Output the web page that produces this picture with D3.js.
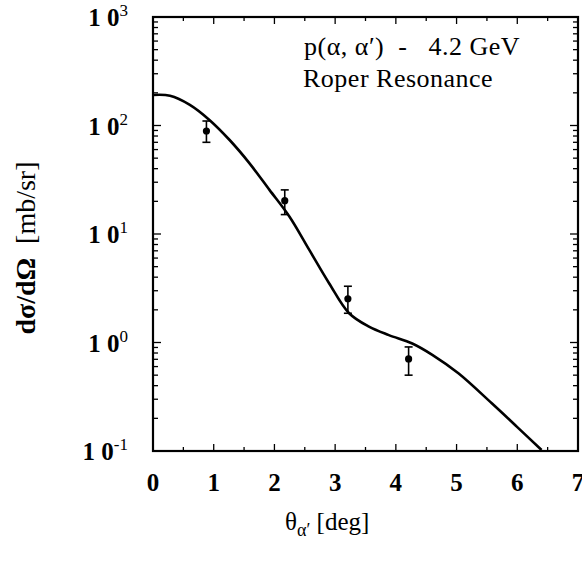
<!DOCTYPE html>
<html>
<head>
<meta charset="utf-8">
<script src="https://cdn.jsdelivr.net/npm/d3@7"></script>
<style>
  body { margin: 0; background: #fff; }
  svg { display: block; }
  text { font-family: "Liberation Serif", "DejaVu Serif", serif; fill: #000; }
</style>
</head>
<body>
<svg></svg>
<script>
const width = 582, height = 564;
const margin = { left: 153, right: 2, top: 17, bottom: 113 };

// data
const data_x = [0.88, 2.17, 3.21, 4.21];
const data_y = [89, 20.3, 2.53, 0.705];
const err_hi = [110, 25.5, 3.3, 0.91];
const err_lo = [70, 15.1, 1.86, 0.5];

const curve_x = [0, 0.28, 0.607, 0.934, 1.262, 1.59, 1.918, 2.246, 2.574, 2.9, 3.23, 3.557, 3.885, 4.27, 4.6, 5.03, 5.58, 6.0, 6.4];
const curve_y = [191, 188, 155, 112, 73.5, 44.8, 25.5, 14.5, 7.13, 3.52, 1.86, 1.40, 1.17, 0.98, 0.77, 0.52, 0.275, 0.166, 0.102];

const x_ticks = [0, 1, 2, 3, 4, 5, 6, 7];
const y_exps = [-1, 0, 1, 2, 3];

const svg = d3.select("svg").attr("width", width).attr("height", height);

const x_scale = d3.scaleLinear().domain([0, 7]).range([margin.left, width - margin.right - 2]);
const y_scale = d3.scaleLog().domain([0.1, 1000]).range([height - margin.bottom, margin.top]);

const x0 = x_scale(0), x1 = x_scale(7), y0 = y_scale(0.1), y1 = y_scale(1000);

// minor / major ticks
const minor_x = d3.range(0.5, 7, 1);
const minor_y = [];
for (let e = -1; e < 3; e++) for (let m = 2; m <= 9; m++) minor_y.push(m * Math.pow(10, e));

const ticks = svg.append("g").attr("stroke", "#000").attr("stroke-width", 1.3);
x_ticks.forEach(v => {
  ticks.append("line").attr("x1", x_scale(v)).attr("x2", x_scale(v)).attr("y1", y0).attr("y2", y0 - 7);
  ticks.append("line").attr("x1", x_scale(v)).attr("x2", x_scale(v)).attr("y1", y1).attr("y2", y1 + 7);
});
minor_x.forEach(v => {
  ticks.append("line").attr("x1", x_scale(v)).attr("x2", x_scale(v)).attr("y1", y0).attr("y2", y0 - 4);
  ticks.append("line").attr("x1", x_scale(v)).attr("x2", x_scale(v)).attr("y1", y1).attr("y2", y1 + 4);
});
y_exps.forEach(e => {
  const y = y_scale(Math.pow(10, e));
  ticks.append("line").attr("x1", x0).attr("x2", x0 + 8).attr("y1", y).attr("y2", y);
  ticks.append("line").attr("x1", x1).attr("x2", x1 - 8).attr("y1", y).attr("y2", y);
});
minor_y.forEach(v => {
  const y = y_scale(v);
  ticks.append("line").attr("x1", x0).attr("x2", x0 + 5).attr("y1", y).attr("y2", y);
  ticks.append("line").attr("x1", x1).attr("x2", x1 - 5).attr("y1", y).attr("y2", y);
});

// frame
svg.append("rect")
  .attr("x", x0).attr("y", y1)
  .attr("width", x1 - x0).attr("height", y0 - y1)
  .attr("fill", "none").attr("stroke", "#000").attr("stroke-width", 2.2);

// x tick labels
svg.append("g").selectAll("text").data(x_ticks).join("text")
  .attr("x", d => x_scale(d))
  .attr("y", y0 + 40)
  .attr("text-anchor", "middle")
  .style("font-size", "25px")
  .style("font-weight", "bold")
  .text(d => d);

// y tick labels (10^n)
const ylab = svg.append("g").selectAll("text").data(y_exps).join("text")
  .attr("x", x0 - 25)
  .attr("y", d => y_scale(Math.pow(10, d)) + 9)
  .attr("text-anchor", "end")
  .style("font-size", "25px")
  .style("font-weight", "bold");
ylab.append("tspan").text("1 0");
ylab.append("tspan").attr("dy", -10).style("font-size", "17px").style("font-weight", "normal").text(d => d);

// curve
const line_generator = d3.line()
  .x(d => x_scale(d[0]))
  .y(d => y_scale(d[1]))
  .curve(d3.curveCatmullRom.alpha(0.5));

svg.append("path")
  .attr("fill", "none")
  .attr("stroke", "#000")
  .attr("stroke-width", 2.6)
  .attr("d", line_generator(curve_x.map((v, i) => [v, curve_y[i]])));

// data points with error bars
const pts = data_x.map((v, i) => ({ x: v, y: data_y[i], hi: err_hi[i], lo: err_lo[i] }));
const eg = svg.append("g").attr("stroke", "#000").attr("stroke-width", 1.6);
pts.forEach(p => {
  eg.append("line").attr("x1", x_scale(p.x)).attr("x2", x_scale(p.x)).attr("y1", y_scale(p.hi)).attr("y2", y_scale(p.lo));
  eg.append("line").attr("x1", x_scale(p.x) - 4).attr("x2", x_scale(p.x) + 4).attr("y1", y_scale(p.hi)).attr("y2", y_scale(p.hi));
  eg.append("line").attr("x1", x_scale(p.x) - 4).attr("x2", x_scale(p.x) + 4).attr("y1", y_scale(p.lo)).attr("y2", y_scale(p.lo));
});
svg.append("g").selectAll("circle").data(pts).join("circle")
  .attr("cx", d => x_scale(d.x))
  .attr("cy", d => y_scale(d.y))
  .attr("r", 3.6)
  .attr("fill", "#000");

// annotation
svg.append("text")
  .attr("x", 304).attr("y", 55)
  .style("font-size", "26px")
  .style("letter-spacing", "0.5px")
  .attr("xml:space", "preserve")
  .text("p(\u03b1, \u03b1\u2032)  -   4.2 GeV");
svg.append("text")
  .attr("x", 303).attr("y", 87)
  .style("font-size", "26px")
  .style("letter-spacing", "0.5px")
  .text("Roper Resonance");

// y label
const yl = svg.append("text")
  .attr("transform", `translate(35, 248) rotate(-90)`)
  .attr("text-anchor", "middle")
  .style("font-size", "28px")
  .attr("xml:space", "preserve");
yl.append("tspan").style("font-weight", "bold").text("d\u03c3/d\u03a9");
yl.append("tspan").text("  [mb/sr]");

// x label
const xl = svg.append("text")
  .attr("x", 285).attr("y", 530)
  .style("font-size", "25px");
xl.append("tspan").text("\u03b8");
xl.append("tspan").attr("dy", 6).style("font-size", "18px").text("\u03b1\u2032");
xl.append("tspan").attr("dy", -6).text(" [deg]");
</script>
</body>
</html>
